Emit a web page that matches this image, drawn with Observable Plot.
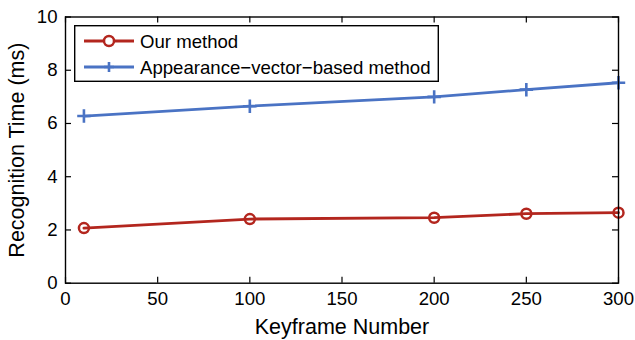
<!DOCTYPE html>
<html>
<head>
<meta charset="utf-8">
<script src="https://cdn.jsdelivr.net/npm/d3@7"></script>
<script src="https://cdn.jsdelivr.net/npm/@observablehq/plot@0.6"></script>
<style>
  html, body { margin: 0; padding: 0; background: #fff; }
  #chart { position: relative; width: 635px; height: 340px; font-family: "Liberation Sans", Arial, sans-serif; }
  #legend { position: absolute; left: 74px; top: 25px; }
</style>
</head>
<body>
<div id="chart"></div>
<script>
const keyframes = [10, 100, 200, 250, 300];
const ourMethod = [2.07, 2.41, 2.46, 2.61, 2.65];
const appearanceMethod = [6.28, 6.65, 7.0, 7.27, 7.53];
const xTicks = [0, 50, 100, 150, 200, 250, 300];
const yTicks = [0, 2, 4, 6, 8, 10];
const seriesNames = ["Our method", "Appearance\u2212vector\u2212based method"];
const seriesColors = ["#b3261e", "#4a73c4"];
const xLabel = "Keyframe Number";
const yLabel = "Recognition Time (ms)";

const W = 635, H = 340;
const mL = 65, mR = 17, mT = 16.5, mB = 57.3;
const pw = W - mL - mR, ph = H - mT - mB;
const tick = 6;

const ours = keyframes.map((k, i) => ({x: k, y: ourMethod[i]}));
const app = keyframes.map((k, i) => ({x: k, y: appearanceMethod[i]}));

const plot = Plot.plot({
  width: W, height: H,
  marginLeft: mL, marginRight: mR, marginTop: mT, marginBottom: mB,
  style: {fontFamily: "Liberation Sans, Arial, sans-serif", fontSize: "18.6px", color: "black", background: "white"},
  x: {domain: [0, 300]},
  y: {domain: [0, 10]},
  marks: [
    Plot.axisX({ticks: xTicks, tickSize: 0, tickPadding: 8.5, label: null, tickFormat: d => d}),
    Plot.axisY({ticks: yTicks, tickSize: 0, tickPadding: 8, label: null, tickFormat: d => d}),
    Plot.tickX(xTicks, {x: d => d, insetTop: ph - tick, stroke: "black", strokeWidth: 1.2}),
    Plot.tickX(xTicks, {x: d => d, insetBottom: ph - tick, stroke: "black", strokeWidth: 1.2}),
    Plot.tickY(yTicks, {y: d => d, insetRight: pw - tick, stroke: "black", strokeWidth: 1.2}),
    Plot.tickY(yTicks, {y: d => d, insetLeft: pw - tick, stroke: "black", strokeWidth: 1.2}),
    Plot.line(app, {x: "x", y: "y", stroke: seriesColors[1], strokeWidth: 2.8}),
    Plot.dot(app, {x: "x", y: "y", symbol: "plus", r: 4.4, stroke: seriesColors[1], strokeWidth: 2.6}),
    Plot.line(ours, {x: "x", y: "y", stroke: seriesColors[0], strokeWidth: 2.8}),
    Plot.dot(ours, {x: "x", y: "y", r: 5, stroke: seriesColors[0], strokeWidth: 2.5, fill: "none"}),
    Plot.frame({stroke: "black", strokeWidth: 1.4}),
    Plot.text([xLabel], {text: d => d, frameAnchor: "bottom", textAnchor: "middle", dy: 51, fontSize: 21.5}),
    Plot.text([yLabel], {text: d => d, frameAnchor: "left", textAnchor: "middle", rotate: -90, dx: -48, fontSize: 21.5})
  ]
});

const chart = document.getElementById("chart");
chart.appendChild(plot);

// legend
const lw = 365, lh = 57;
const leg = d3.create("svg").attr("id", "legend").attr("width", lw).attr("height", lh)
  .style("font-family", "Liberation Sans, Arial, sans-serif");
leg.append("rect").attr("x", 0.7).attr("y", 0.7).attr("width", lw - 1.4).attr("height", lh - 1.4)
  .attr("fill", "white").attr("stroke", "black").attr("stroke-width", 1.4);
const rows = [16, 42];
seriesNames.forEach((name, i) => {
  const g = leg.append("g").attr("transform", `translate(0,${rows[i]})`);
  g.append("line").attr("x1", 10).attr("x2", 60).attr("y1", 0).attr("y2", 0)
    .attr("stroke", seriesColors[i]).attr("stroke-width", 2.8);
  if (i === 0) {
    g.append("circle").attr("cx", 35).attr("cy", 0).attr("r", 5)
      .attr("fill", "white").attr("stroke", seriesColors[i]).attr("stroke-width", 2.5);
  } else {
    g.append("path").attr("d", "M30,0H40M35,-5V5")
      .attr("stroke", seriesColors[i]).attr("stroke-width", 2.6);
  }
  g.append("text").attr("x", 66).attr("y", 0).attr("dy", "0.35em")
    .attr("font-size", 18.6).attr("fill", "black").text(name);
});
chart.appendChild(leg.node());
</script>
</body>
</html>
